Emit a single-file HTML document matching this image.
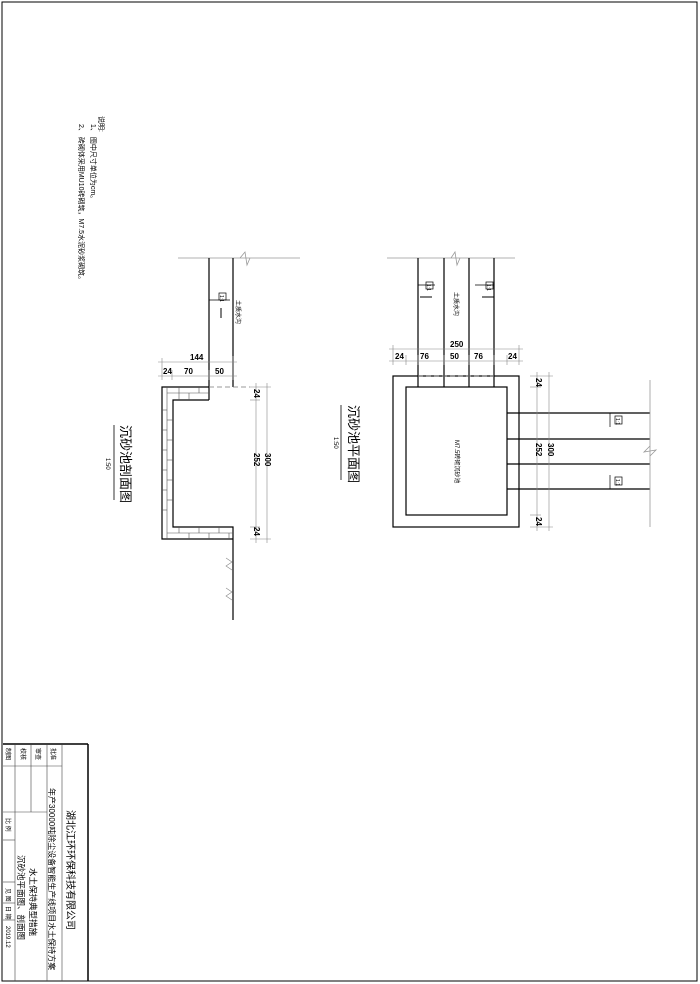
<!DOCTYPE html>
<html><head><meta charset="utf-8"><style>
html,body{margin:0;padding:0;background:#fff;}
svg{display:block;}
text{font-family:"Liberation Sans","Noto Sans CJK SC",sans-serif;fill:#000;}
</style></head><body>
<svg width="700" height="984" viewBox="0 0 700 984" xmlns="http://www.w3.org/2000/svg">
<rect x="2" y="2" width="695" height="979" fill="none" stroke="#000" stroke-width="1"/>

<!-- Notes -->
<g font-size="7">
<text transform="translate(99,116) rotate(90)">说明:</text>
<text transform="translate(91,124) rotate(90)">1、 图中尺寸单位为cm。</text>
<text transform="translate(79,124) rotate(90)">2、 砖砌体采用MU10砖砌筑，M7.5水泥砂浆砌筑。</text>
</g>

<!-- ===== Section view ===== -->
<g stroke="#000" fill="none" stroke-width="1.2">
<line x1="178" y1="258" x2="300" y2="258" stroke="#999" stroke-width="0.8"/>
<polyline points="240,258 245,252 247,265 250,258" stroke="#999" stroke-width="0.8"/>
<line x1="209" y1="258" x2="209" y2="400"/>
<line x1="233" y1="258" x2="233" y2="387"/>
<polyline points="209,387 162,387 162,539 233,539"/>
<polyline points="209,400 173,400 173,527 233,527 233,620"/>
<line x1="209" y1="387" x2="250" y2="387" stroke-dasharray="5,3" stroke-width="0.8" stroke="#777"/>
</g>
<!-- brick hatch -->
<g stroke="#555" stroke-width="0.6">
<line x1="167" y1="387" x2="167" y2="539"/>
<line x1="162" y1="410" x2="167" y2="410"/><line x1="162" y1="430" x2="167" y2="430"/><line x1="162" y1="450" x2="167" y2="450"/><line x1="162" y1="470" x2="167" y2="470"/><line x1="162" y1="490" x2="167" y2="490"/><line x1="162" y1="510" x2="167" y2="510"/>
<line x1="167" y1="420" x2="173" y2="420"/><line x1="167" y1="440" x2="173" y2="440"/><line x1="167" y1="460" x2="173" y2="460"/><line x1="167" y1="480" x2="173" y2="480"/><line x1="167" y1="500" x2="173" y2="500"/>
<line x1="167" y1="393" x2="209" y2="393"/>
<line x1="179" y1="387" x2="179" y2="400"/><line x1="189" y1="393" x2="189" y2="400"/><line x1="199" y1="387" x2="199" y2="393"/>
<line x1="167" y1="533" x2="233" y2="533"/>
<line x1="179" y1="527" x2="179" y2="533"/><line x1="189" y1="533" x2="189" y2="539"/><line x1="199" y1="527" x2="199" y2="533"/><line x1="209" y1="533" x2="209" y2="539"/><line x1="219" y1="527" x2="219" y2="533"/><line x1="229" y1="533" x2="229" y2="539"/>
</g>
<!-- label 1:1 -->
<g stroke="#000" stroke-width="0.7" fill="none">
<line x1="209" y1="300" x2="230" y2="300"/>
<rect x="219" y="293" width="7" height="7"/>
<line x1="221" y1="308" x2="221" y2="318" stroke-width="1"/>
</g>
<text font-size="5" transform="translate(220,295) rotate(90)">1:1</text>
<text font-size="6" transform="translate(236,300) rotate(90)">土质水沟</text>
<!-- dims -->
<g stroke="#888" stroke-width="0.6">
<line x1="158" y1="362" x2="237" y2="362"/>
<line x1="158" y1="376" x2="237" y2="376"/>
<line x1="162" y1="358" x2="162" y2="380"/><line x1="172" y1="370" x2="172" y2="380"/><line x1="209" y1="370" x2="209" y2="380"/><line x1="233" y1="356" x2="233" y2="380"/>
<line x1="256" y1="383" x2="256" y2="543"/>
<line x1="267" y1="383" x2="267" y2="543"/>
<line x1="250" y1="387" x2="271" y2="387"/><line x1="250" y1="400" x2="260" y2="400"/><line x1="250" y1="527" x2="260" y2="527"/><line x1="250" y1="539" x2="271" y2="539"/>
</g>
<g font-size="8" font-weight="bold">
<text x="190" y="360">144</text>
<text x="163" y="374">24</text>
<text x="184" y="374">70</text>
<text x="215" y="374">50</text>
</g>
<g font-size="8" font-weight="bold">
<text transform="translate(254,389) rotate(90)">24</text>
<text transform="translate(254,453) rotate(90)">252</text>
<text transform="translate(265,453) rotate(90)">300</text>
<text transform="translate(254,527) rotate(90)">24</text>
</g>
<g stroke="#888" stroke-width="0.6" fill="none">
<polyline points="226,558 232,562 226,566 232,570"/>
<polyline points="226,588 232,592 226,596 232,600"/>
</g>
<text font-size="13" transform="translate(121,425) rotate(90)">沉砂池剖面图</text>
<line x1="114" y1="425" x2="114" y2="500" stroke="#000" stroke-width="0.8"/>
<text font-size="6" transform="translate(106,458) rotate(90)">1:50</text>

<!-- ===== Plan view ===== -->
<g stroke="#000" fill="none" stroke-width="1.2">
<line x1="387" y1="258" x2="515" y2="258" stroke="#999" stroke-width="0.8"/>
<polyline points="451,258 455,252 457,265 460,258" stroke="#999" stroke-width="0.8"/>
<line x1="418" y1="258" x2="418" y2="387"/>
<line x1="444" y1="258" x2="444" y2="387"/>
<line x1="469" y1="258" x2="469" y2="387"/>
<line x1="494" y1="258" x2="494" y2="387"/>
<rect x="393" y="376" width="126" height="151"/>
<rect x="406" y="387" width="101" height="128"/>
<line x1="418" y1="376" x2="494" y2="376" stroke="#888" stroke-dasharray="5,3" stroke-width="0.8"/>
<line x1="507" y1="413" x2="650" y2="413"/>
<line x1="507" y1="439" x2="650" y2="439"/>
<line x1="507" y1="464" x2="650" y2="464"/>
<line x1="507" y1="489" x2="650" y2="489"/>
<line x1="650" y1="380" x2="650" y2="527" stroke="#999" stroke-width="0.8"/>
<polyline points="650,446 644,452 656,450 650,456" stroke="#999" stroke-width="0.8"/>
</g>
<g stroke="#000" stroke-width="0.7" fill="none">
<line x1="418" y1="285" x2="435" y2="285"/><rect x="426" y="282" width="7" height="7"/><line x1="420" y1="297" x2="432" y2="297" stroke-width="1"/>
<line x1="475" y1="285" x2="494" y2="285"/><rect x="486" y="282" width="7" height="7"/><line x1="482" y1="297" x2="494" y2="297" stroke-width="1"/>
<line x1="610" y1="413" x2="610" y2="427"/><rect x="615" y="416" width="7" height="8"/>
<line x1="610" y1="475" x2="610" y2="489"/><rect x="615" y="477" width="7" height="8"/>
</g>
<g font-size="5">
<text transform="translate(427,284) rotate(90)">1:1</text>
<text transform="translate(487,284) rotate(90)">1:1</text>
<text transform="translate(616,418) rotate(90)">1:1</text>
<text transform="translate(616,479) rotate(90)">1:1</text>
</g>
<text font-size="6" transform="translate(454,292) rotate(90)">土质水沟</text>
<text font-size="6" transform="translate(455,440) rotate(90)">M7.5砖砌沉砂池</text>
<g stroke="#888" stroke-width="0.6">
<line x1="389" y1="349" x2="523" y2="349"/>
<line x1="389" y1="361" x2="523" y2="361"/>
<line x1="393" y1="345" x2="393" y2="365"/><line x1="406" y1="355" x2="406" y2="365"/><line x1="418" y1="355" x2="418" y2="365"/><line x1="444" y1="355" x2="444" y2="365"/><line x1="469" y1="355" x2="469" y2="365"/><line x1="494" y1="355" x2="494" y2="365"/><line x1="507" y1="355" x2="507" y2="365"/><line x1="519" y1="345" x2="519" y2="365"/>
<line x1="537" y1="372" x2="537" y2="531"/>
<line x1="549" y1="372" x2="549" y2="531"/>
<line x1="530" y1="376" x2="553" y2="376"/><line x1="530" y1="387" x2="541" y2="387"/><line x1="530" y1="515" x2="541" y2="515"/><line x1="530" y1="527" x2="553" y2="527"/>
</g>
<g font-size="8" font-weight="bold">
<text x="450" y="347">250</text>
<text x="395" y="359">24</text>
<text x="420" y="359">76</text>
<text x="450" y="359">50</text>
<text x="474" y="359">76</text>
<text x="508" y="359">24</text>
<text transform="translate(536,378) rotate(90)">24</text>
<text transform="translate(536,443) rotate(90)">252</text>
<text transform="translate(548,443) rotate(90)">300</text>
<text transform="translate(536,517) rotate(90)">24</text>
</g>
<text font-size="13" transform="translate(349,405) rotate(90)">沉砂池平面图</text>
<line x1="341" y1="405" x2="341" y2="480" stroke="#000" stroke-width="0.8"/>
<text font-size="6" transform="translate(334,437) rotate(90)">1:50</text>

<!-- ===== Title block ===== -->
<g stroke="#000" fill="none">
<line x1="3" y1="744" x2="88" y2="744" stroke-width="1.5"/>
<line x1="88" y1="744" x2="88" y2="981" stroke-width="1.5"/>
<g stroke-width="0.6" stroke="#444">
<line x1="3" y1="766" x2="62" y2="766"/>
<line x1="15" y1="744" x2="15" y2="981"/>
<line x1="31" y1="744" x2="31" y2="812"/>
<line x1="47" y1="744" x2="47" y2="981"/>
<line x1="62" y1="744" x2="62" y2="981"/>
<line x1="3" y1="812" x2="47" y2="812"/>
<line x1="3" y1="840" x2="15" y2="840"/>
<line x1="3" y1="882" x2="15" y2="882"/>
<line x1="3" y1="903" x2="15" y2="903"/>
<line x1="3" y1="920" x2="15" y2="920"/>
</g>
</g>
<g font-size="6">
<text transform="translate(6,748) rotate(90)">制图</text>
<text transform="translate(21,748) rotate(90)">校核</text>
<text transform="translate(36,748) rotate(90)">审查</text>
<text transform="translate(51,748) rotate(90)">批准</text>
<text transform="translate(6,818) rotate(90)">比 例</text>
<text transform="translate(6,888) rotate(90)">见 图</text>
<text transform="translate(6,906) rotate(90)">日 期</text>
<text transform="translate(6,926) rotate(90)">2019.12</text>
</g>
<text font-size="8" transform="translate(49,788) rotate(90)">年产30000吨除尘设备智能生产线项目水土保持方案</text>
<text font-size="10" transform="translate(67,810) rotate(90)">湖北江环环保科技有限公司</text>
<text font-size="8.5" transform="translate(30,868) rotate(90)">水土保持典型措施</text>
<text font-size="8.5" transform="translate(18,855) rotate(90)">沉砂池平面图、剖面图</text>
</svg>
</body></html>
